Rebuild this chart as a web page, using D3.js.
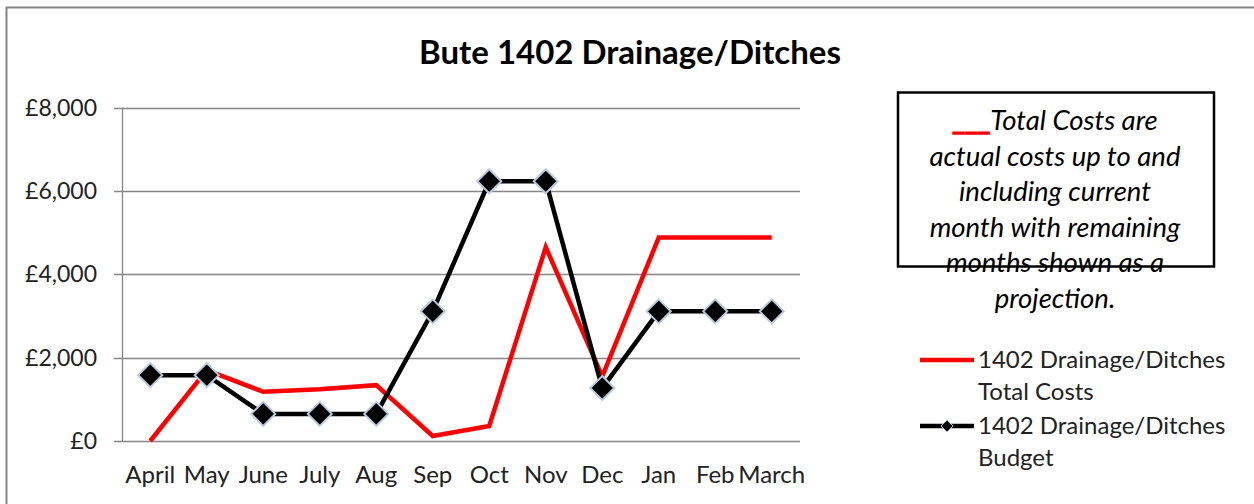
<!DOCTYPE html>
<html>
<head>
<meta charset="utf-8">
<script src="https://cdn.jsdelivr.net/npm/d3@7"></script>
<style>
  html, body { margin: 0; padding: 0; background: #fff; }
  svg { display: block; }
  text { font-family: "Lato", "Open Sans", sans-serif; }
</style>
</head>
<body>
<svg id="chart" width="1254" height="504"></svg>
<script>
const months = ["April","May","June","July","Aug","Sep","Oct","Nov","Dec","Jan","Feb","March"];
const totalCosts = [0, 1700, 1180, 1240, 1340, 120, 360, 4650, 1550, 4880, 4880, 4880];
const budget = [1580, 1580, 650, 650, 650, 3110, 6230, 6230, 1270, 3110, 3110, 3110];
const yTicks = [0, 2000, 4000, 6000, 8000];
const title = "Bute 1402 Drainage/Ditches";
const noteLines = ["Total Costs are", "actual costs up to and", "including current", "month with remaining", "months shown as a", "projection."];
const legendItems = [
  {name: ["1402 Drainage/Ditches", "Total Costs"], key: "total"},
  {name: ["1402 Drainage/Ditches", "Budget"], key: "budget"}
];

const svg = d3.select("#chart");

// outer chart border
svg.append("rect").attr("x", 6.5).attr("y", 7.5).attr("width", 1270).attr("height", 520)
  .attr("fill", "none").attr("stroke", "#868686").attr("stroke-width", 2);

const plot = {left: 122, right: 800, top: 107.5, bottom: 441};

const x = d3.scaleBand().domain(months).range([plot.left, plot.right]);
const y = d3.scaleLinear().domain([0, 8000]).range([plot.bottom, plot.top]);

// gridlines
svg.append("g").selectAll("line").data(yTicks).join("line")
  .attr("x1", plot.left - 8).attr("x2", plot.right)
  .attr("y1", d => Math.round(y(d)) + 0.5).attr("y2", d => Math.round(y(d)) + 0.5)
  .attr("stroke", "#868686").attr("stroke-width", 1.3);

// y axis line
svg.append("line").attr("x1", plot.left + 0.5).attr("x2", plot.left + 0.5)
  .attr("y1", plot.top).attr("y2", plot.bottom)
  .attr("stroke", "#868686").attr("stroke-width", 1.3);

// y labels
const fmt = d => "£" + d3.format(",")(d);
svg.append("g").selectAll("text").data(yTicks).join("text")
  .attr("x", 97).attr("y", d => y(d)).attr("dy", "0.35em")
  .attr("text-anchor", "end").attr("font-size", 23).attr("fill", "#222")
  .text(fmt);

// x labels
svg.append("g").selectAll("text").data(months).join("text")
  .attr("x", d => x(d) + x.bandwidth() / 2).attr("y", 483)
  .attr("text-anchor", "middle").attr("font-size", 24).attr("fill", "#222")
  .text(d => d);

// title
svg.append("text").attr("x", 630).attr("y", 64).attr("text-anchor", "middle")
  .attr("font-size", 33).attr("font-weight", "bold").attr("fill", "#000")
  .text(title);

const line = d3.line().x((d, i) => x(months[i]) + x.bandwidth() / 2).y(d => y(d));

svg.append("path").datum(totalCosts).attr("d", line)
  .attr("fill", "none").attr("stroke", "#ff0000").attr("stroke-width", 4.5)
  .attr("stroke-linejoin", "miter");

svg.append("path").datum(budget).attr("d", line)
  .attr("fill", "none").attr("stroke", "#000").attr("stroke-width", 4.5);

const diamond = (cx, cy, r) => `M${cx},${cy - r}L${cx + r},${cy}L${cx},${cy + r}L${cx - r},${cy}Z`;
svg.append("g").selectAll("path").data(budget).join("path")
  .attr("d", (d, i) => diamond(x(months[i]) + x.bandwidth() / 2, y(d), 12))
  .attr("fill", "#000").attr("stroke", "#b9c9e0").attr("stroke-width", 2);

// note box
svg.append("rect").attr("x", 898).attr("y", 92.5).attr("width", 316).attr("height", 174)
  .attr("fill", "#fff").attr("stroke", "#000").attr("stroke-width", 2.5);

const note = svg.append("g");
noteLines.forEach((t, i) => {
  const tx = note.append("text").attr("x", 1055).attr("y", 130 + i * 35.5)
    .attr("text-anchor", "middle").attr("font-size", 27.5).attr("font-style", "italic")
    .attr("fill", "#000");
  if (i === 0) {
    tx.append("tspan").attr("fill", "#ff0000").attr("stroke", "#ff0000")
      .attr("stroke-width", 1.6).attr("font-style", "normal").text("___");
  }
  tx.append("tspan").text(t);
});

// legend
const lg = svg.append("g");
legendItems.forEach((it, i) => {
  const ly = 360 + i * 66;
  lg.append("line").attr("x1", 920).attr("x2", 974).attr("y1", ly).attr("y2", ly)
    .attr("stroke", it.key === "total" ? "#ff0000" : "#000").attr("stroke-width", 4.5);
  if (it.key === "budget") {
    lg.append("path").attr("d", diamond(947, ly, 6)).attr("fill", "#000")
      .attr("stroke", "#b9c9e0").attr("stroke-width", 1);
  }
  it.name.forEach((n, j) => {
    lg.append("text").attr("x", 978).attr("y", ly + j * 32).attr("dy", "0.35em")
      .attr("font-size", 24).attr("fill", "#222").text(n);
  });
});
</script>
</body>
</html>
